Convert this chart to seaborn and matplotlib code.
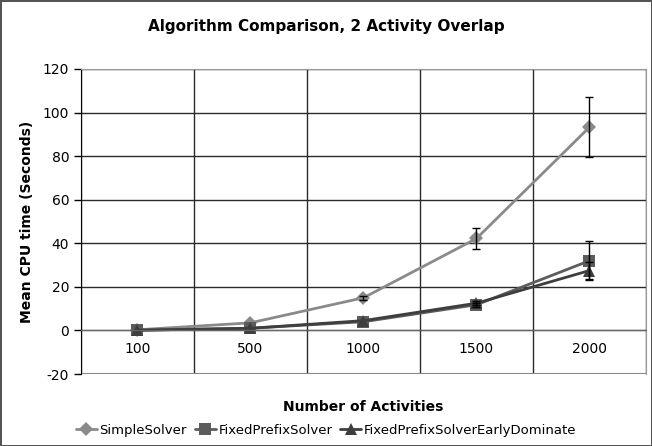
import numpy as np
import pandas as pd
import matplotlib
matplotlib.use("Agg")
import matplotlib.pyplot as plt
import seaborn as sns
from matplotlib.lines import Line2D

# values
activities = ["100", "500", "1000", "1500", "2000"]
simple = [0.3, 3.5, 15.0, 42.2, 93.3]
simple_err = [0.0, 0.3, 0.8, 4.6, 13.9]
fixed = [0.1, 1.0, 4.0, 11.8, 32.0]
fixed_err = [0.0, 0.1, 0.3, 1.0, 9.0]
early = [0.1, 1.0, 4.5, 12.5, 27.5]
early_err = [0.0, 0.1, 0.3, 1.0, 3.8]

names = ["SimpleSolver", "FixedPrefixSolver", "FixedPrefixSolverEarlyDominate"]
colors = ["#8a8a8a", "#5c5c5c", "#3e3e3e"]
markers = ["D", "s", "^"]
msizes = [7, 9, 9]

df = pd.concat([
    pd.DataFrame(dict(activities=activities, time=v, err=e, solver=n))
    for v, e, n in zip([simple, fixed, early], [simple_err, fixed_err, early_err], names)
])

sns.set_style("white")
plt.rcParams["font.family"] = ["DejaVu Sans"]
plt.rcParams["axes.unicode_minus"] = False
plt.rcParams["text.color"] = "black"
plt.rcParams["axes.labelcolor"] = "black"
plt.rcParams["xtick.color"] = "black"
plt.rcParams["ytick.color"] = "black"

fig = plt.figure(figsize=(6.52, 4.46), dpi=100)
ax = fig.add_axes([0.1242, 0.1614, 0.8666, 0.6839])

sns.lineplot(data=df, x="activities", y="time", hue="solver", style="solver",
             palette=colors, markers=markers, dashes=False, linewidth=2,
             markeredgewidth=0, ax=ax, legend=False, sort=False)
for line, ms in zip(ax.lines, msizes):
    line.set_markersize(ms)

for (name, sub) in df.groupby("solver", sort=False):
    sub = sub[sub["err"] > 0.5]
    ax.errorbar(sub["activities"], sub["time"], yerr=sub["err"], fmt="none",
                ecolor="black", elinewidth=1, capsize=3, capthick=1, zorder=5)

ax.set_xlim(-0.5, len(activities) - 0.5)
ax.set_ylim(-20, 120)
ax.set_yticks(np.arange(-20, 121, 20))
ax.set_xticks(np.arange(len(activities)))
ax.set_xticks(np.arange(len(activities) + 1) - 0.5, minor=True)

# horizontal grid, vertical category separators
ax.yaxis.grid(True, color="#2a2a2a", linewidth=1)
ax.xaxis.grid(True, which="minor", color="#2a2a2a", linewidth=1)
ax.xaxis.grid(False, which="major")
ax.set_axisbelow(True)

ax.spines["bottom"].set_position(("data", 0))
ax.spines["bottom"].set_color("#666666")
ax.spines["left"].set_color("black")
ax.spines["top"].set_color("#999999")
ax.spines["right"].set_color("#999999")
ax.axhline(-20, color="#888888", linewidth=1.5)

ax.tick_params(axis="x", which="both", length=0, labelsize=10, pad=8)
ax.tick_params(axis="y", length=5, width=1, color="black", labelsize=10, left=True)

ax.set_xlabel("Number of Activities", fontsize=10, fontweight="bold", labelpad=0)
ax.xaxis.set_label_coords(0.5, -0.085)
ax.set_ylabel("Mean CPU time (Seconds)", fontsize=10, fontweight="bold", labelpad=6)

fig.suptitle("Algorithm Comparison, 2 Activity Overlap", fontsize=11,
             fontweight="bold", x=0.5, y=0.958)

handles = [Line2D([], [], color=c, marker=m, markersize=ms, linewidth=2, markeredgewidth=0)
           for c, m, ms in zip(colors, markers, msizes)]
fig.legend(handles, names, loc="center", bbox_to_anchor=(0.5, 0.035), ncol=3,
           frameon=False, fontsize=9.5, handlelength=1.6, handletextpad=0.2,
           columnspacing=0.6)

fig.patch.set_edgecolor("#555555")
fig.patch.set_linewidth(2)
fig.savefig("out.png", dpi=100, edgecolor=fig.get_edgecolor())
